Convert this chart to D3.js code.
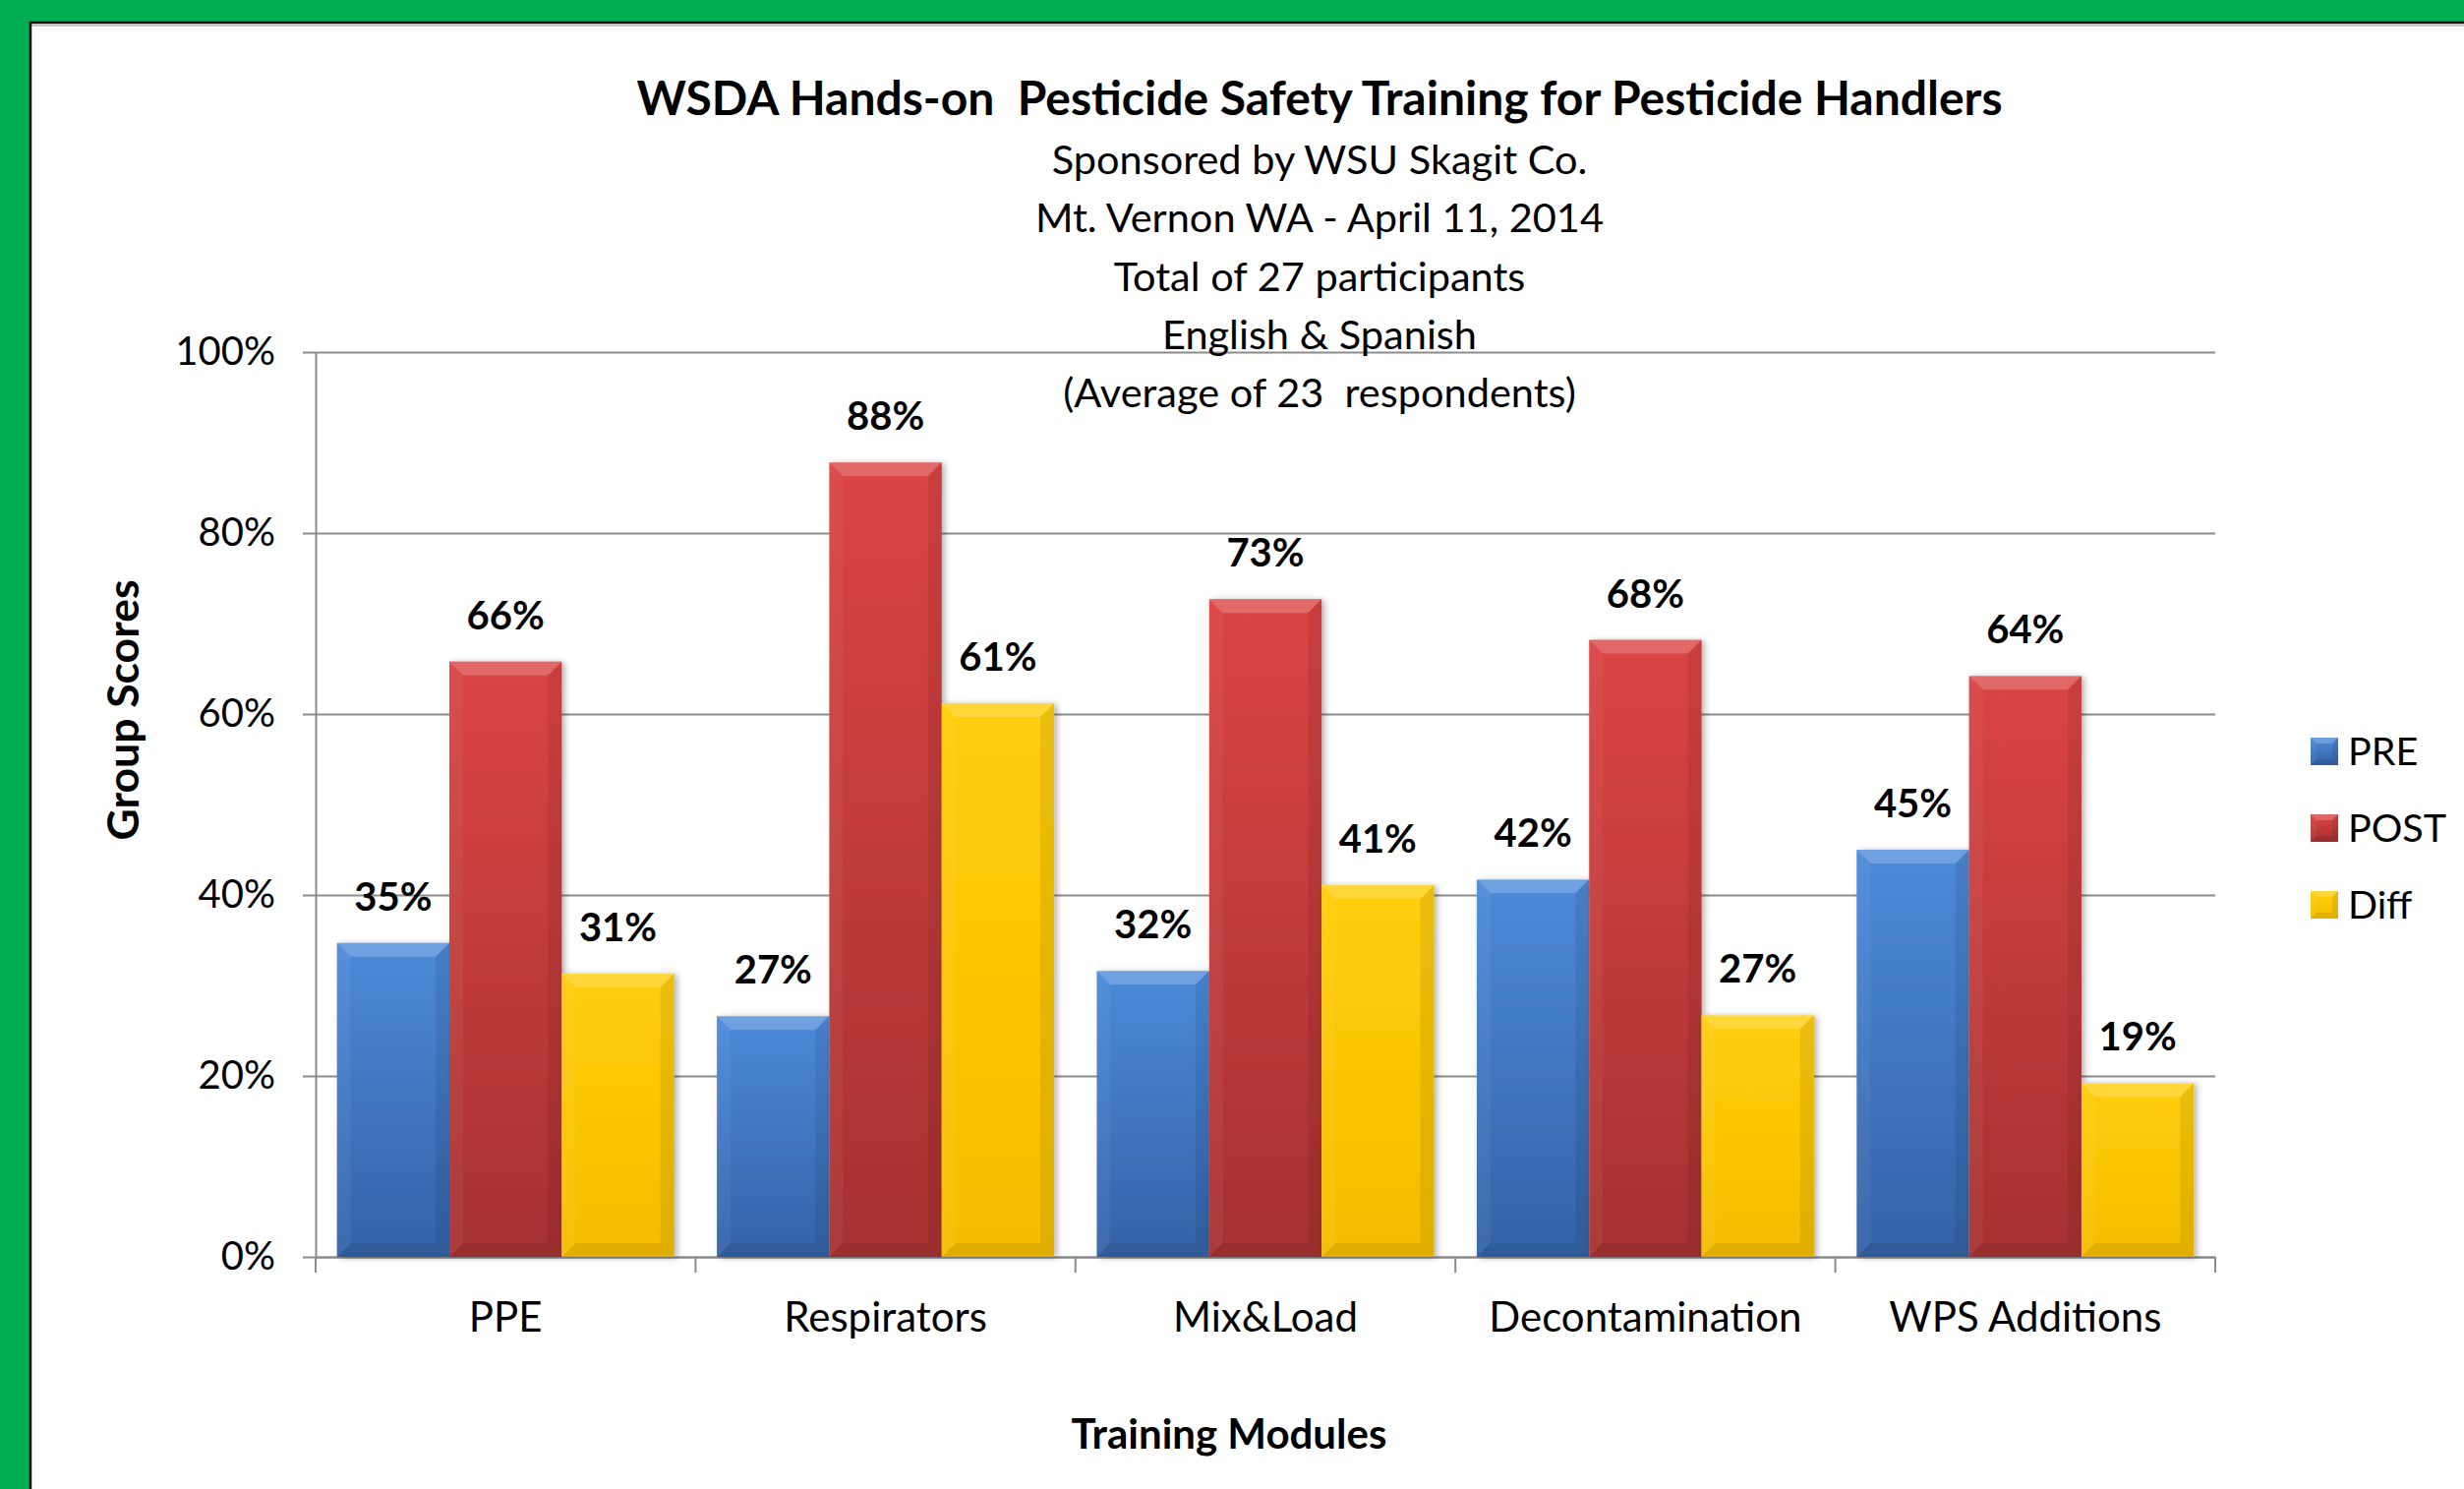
<!DOCTYPE html>
<html lang="en">
  <head>
    <meta charset="utf-8">
    <title>WSDA pesticide safety training scores</title>
    <script src="https://cdn.jsdelivr.net/npm/d3@7"></script>
    <style>
      body { margin: 0; background: #fff; }
      text { font-family: Lato, 'Open Sans', sans-serif; fill: #000; }
    </style>
  </head>
  <body>
    <div id="chart"></div>
  </body>

  <script type="text/javascript">

    // data
    const categories = ['PPE', 'Respirators', 'Mix&Load', 'Decontamination', 'WPS Additions'];
    const seriesNames = ['PRE', 'POST', 'Diff'];
    const preScores  = [0.347, 0.266, 0.316, 0.417, 0.450];
    const postScores = [0.658, 0.878, 0.727, 0.682, 0.642];
    const diffScores = [0.313, 0.612, 0.411, 0.267, 0.192];
    const yTicks = [0, 0.2, 0.4, 0.6, 0.8, 1.0];

    const chartTitle = 'WSDA Hands-on  Pesticide Safety Training for Pesticide Handlers';
    const subLines = [
      'Sponsored by WSU Skagit Co.',
      'Mt. Vernon WA - April 11, 2014',
      'Total of 27 participants',
      'English & Spanish',
      '(Average of 23  respondents)'
    ];

    const colors = {
      PRE:  ['#4c8ad9', '#3462a6'],
      POST: ['#db4444', '#a63131'],
      Diff: ['#ffce0a', '#f4bd00']
    };

    const W = 2506, H = 1514;
    const plot = {left: 321, right: 2253, top: 358, bottom: 1278};

    const svg = d3.select('#chart').append('svg')
      .attr('width', W)
      .attr('height', H);

    // gradients + shadow
    const defs = svg.append('defs');
    seriesNames.forEach(s => {
      const g = defs.append('linearGradient')
        .attr('id', 'grad-' + s)
        .attr('x1', 0).attr('y1', 0).attr('x2', 0).attr('y2', 1);
      g.append('stop').attr('offset', '0%').attr('stop-color', colors[s][0]);
      g.append('stop').attr('offset', '100%').attr('stop-color', colors[s][1]);
    });
    const shadow = defs.append('filter').attr('id', 'shadow')
      .attr('x', '-10%').attr('y', '-5%').attr('width', '130%').attr('height', '110%');
    shadow.append('feDropShadow')
      .attr('dx', 3).attr('dy', 1).attr('stdDeviation', 3)
      .attr('flood-color', '#000').attr('flood-opacity', 0.3);

    // frame: green border at top and left
    svg.append('rect').attr('width', W).attr('height', H).attr('fill', '#fff');
    svg.append('rect').attr('x', 0).attr('y', 0).attr('width', W).attr('height', 22).attr('fill', '#00ad50');
    svg.append('rect').attr('x', 0).attr('y', 0).attr('width', 30).attr('height', H).attr('fill', '#00ad50');
    svg.append('line').attr('x1', 32).attr('x2', W).attr('y1', 26).attr('y2', 26)
      .attr('stroke', '#c8c8c8').attr('stroke-width', 2);
    svg.append('line').attr('x1', 30).attr('x2', W).attr('y1', 23).attr('y2', 23)
      .attr('stroke', '#111').attr('stroke-width', 2.5);
    svg.append('line').attr('x1', 31).attr('x2', 31).attr('y1', 22).attr('y2', H)
      .attr('stroke', '#111').attr('stroke-width', 2.5);

    // scales
    const x0 = d3.scaleBand()
      .domain(categories)
      .range([plot.left, plot.right])
      .padding(0);
    const x1 = d3.scaleBand()
      .domain(seriesNames)
      .range([0, x0.bandwidth()])
      .paddingInner(0)
      .paddingOuter(0.19);
    const y = d3.scaleLinear()
      .domain([0, 1])
      .range([plot.bottom, plot.top]);

    // gridlines
    const grid = svg.append('g')
      .attr('transform', `translate(${plot.left},0)`)
      .call(d3.axisLeft(y).tickValues(yTicks).tickSize(-(plot.right - plot.left)).tickFormat(''));
    grid.select('.domain').remove();
    grid.selectAll('line').attr('stroke', '#8c8c8c').attr('stroke-width', 2);

    // y axis
    const yAxis = svg.append('g')
      .attr('transform', `translate(${plot.left},0)`)
      .call(d3.axisLeft(y).tickValues(yTicks).tickFormat(d3.format('.0%'))
        .tickSize(13).tickSizeOuter(0).tickPadding(28));
    yAxis.select('.domain').attr('stroke', '#8c8c8c').attr('stroke-width', 2);
    yAxis.selectAll('line').attr('stroke', '#8c8c8c').attr('stroke-width', 2);
    yAxis.selectAll('text')
      .attr('font-size', 40)
      .attr('font-family', null);

    // x axis: category labels + boundary ticks
    const xAxis = svg.append('g')
      .attr('transform', `translate(0,${plot.bottom})`)
      .call(d3.axisBottom(x0).tickSize(0).tickSizeOuter(0));
    xAxis.select('.domain').attr('stroke', '#8c8c8c').attr('stroke-width', 2);
    xAxis.selectAll('text')
      .attr('y', 76).attr('dy', 0)
      .attr('font-size', 42)
      .attr('font-family', null);
    const bounds = categories.map(c => x0(c)).concat([plot.right]);
    xAxis.selectAll('line.bound')
      .data(bounds)
      .enter()
      .append('line')
      .attr('class', 'bound')
      .attr('x1', d => d).attr('x2', d => d)
      .attr('y1', 0).attr('y2', 16)
      .attr('stroke', '#8c8c8c').attr('stroke-width', 2);

    // bars
    const rows = categories.map((c, i) => ({
      category: c,
      values: [
        {key: 'PRE', value: preScores[i]},
        {key: 'POST', value: postScores[i]},
        {key: 'Diff', value: diffScores[i]}
      ]
    }));

    function bevelBar(sel, w, h, b) {
      // sel is a g translated to the bar's top-left corner
      sel.append('rect')
        .attr('width', w).attr('height', h)
        .attr('fill', d => `url(#grad-${d.key})`);
      sel.append('polygon')
        .attr('points', `0,0 ${w},0 ${w - b},${b} ${b},${b}`)
        .attr('fill', '#fff').attr('opacity', 0.2);
      sel.append('polygon')
        .attr('points', `0,0 ${b},${b} ${b},${h - b} 0,${h}`)
        .attr('fill', '#fff').attr('opacity', 0.05);
      sel.append('polygon')
        .attr('points', `${w},0 ${w},${h} ${w - b},${h - b} ${w - b},${b}`)
        .attr('fill', '#000').attr('opacity', 0.08);
      sel.append('polygon')
        .attr('points', `0,${h} ${b},${h - b} ${w - b},${h - b} ${w},${h}`)
        .attr('fill', '#000').attr('opacity', 0.08);
    }

    const groups = svg.selectAll('g.cat')
      .data(rows)
      .enter()
      .append('g')
      .attr('class', 'cat')
      .attr('transform', d => `translate(${x0(d.category)},0)`);

    const bars = groups.selectAll('g.bar')
      .data(d => d.values)
      .enter()
      .append('g')
      .attr('class', 'bar')
      .attr('filter', 'url(#shadow)')
      .attr('transform', d => `translate(${x1(d.key)},${y(d.value)})`);

    bars.each(function(d) {
      const h = plot.bottom - y(d.value);
      bevelBar(d3.select(this), x1.bandwidth(), h, Math.min(14, h / 2));
    });

    // value labels
    groups.selectAll('text.val')
      .data(d => d.values)
      .enter()
      .append('text')
      .attr('class', 'val')
      .attr('x', d => x1(d.key) + x1.bandwidth() / 2)
      .attr('y', d => y(d.value) - 33)
      .attr('text-anchor', 'middle')
      .attr('font-size', 40)
      .attr('font-weight', 'bold')
      .text(d => d3.format('.0%')(d.value));

    // titles
    svg.append('text')
      .attr('x', 1342).attr('y', 117)
      .attr('text-anchor', 'middle')
      .attr('font-size', 48)
      .attr('font-weight', 'bold')
      .style('white-space', 'pre')
      .text(chartTitle);

    svg.selectAll('text.sub')
      .data(subLines)
      .enter()
      .append('text')
      .attr('class', 'sub')
      .attr('x', 1342)
      .attr('y', (d, i) => 177 + i * 59.3)
      .attr('text-anchor', 'middle')
      .attr('font-size', 41.5)
      .style('white-space', 'pre')
      .text(d => d);

    svg.append('text')
      .attr('transform', 'translate(141,722) rotate(-90)')
      .attr('text-anchor', 'middle')
      .attr('font-size', 44.5)
      .attr('font-weight', 'bold')
      .text('Group Scores');

    svg.append('text')
      .attr('x', 1250).attr('y', 1473)
      .attr('text-anchor', 'middle')
      .attr('font-size', 42)
      .attr('font-weight', 'bold')
      .text('Training Modules');

    // legend
    const legend = svg.selectAll('g.legend')
      .data(seriesNames.map(s => ({key: s})))
      .enter()
      .append('g')
      .attr('class', 'legend')
      .attr('transform', (d, i) => `translate(2350,${750 + i * 78})`);

    legend.each(function() {
      bevelBar(d3.select(this), 28, 28, 6);
    });

    legend.append('text')
      .attr('x', 38)
      .attr('y', 28)
      .attr('font-size', 39.5)
      .text(d => d.key);

  </script>
</html>
